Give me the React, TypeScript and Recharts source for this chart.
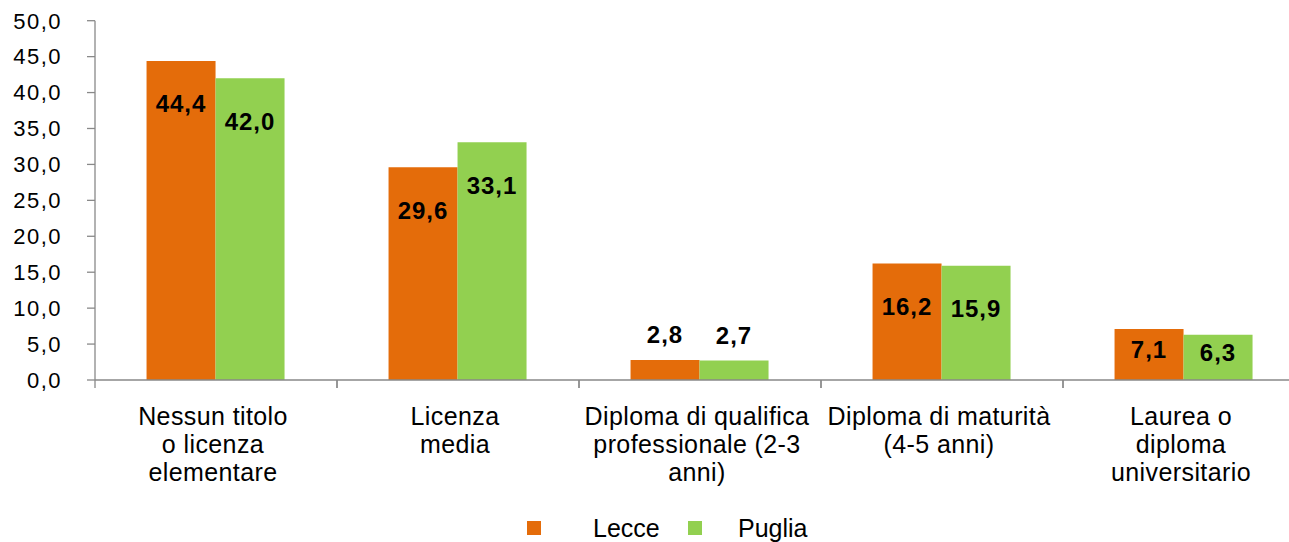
import React from 'react';
import { BarChart, Bar, XAxis, YAxis, Legend, LabelList } from 'recharts';

const categories = [
  'Nessun titolo\no licenza\nelementare',
  'Licenza\nmedia',
  'Diploma di qualifica\nprofessionale (2-3\nanni)',
  'Diploma di maturità\n(4-5 anni)',
  'Laurea o\ndiploma\nuniversitario',
];
const lecce = [44.4, 29.6, 2.8, 16.2, 7.1];
const puglia = [42.0, 33.1, 2.7, 15.9, 6.3];
const yTicks = [0, 5, 10, 15, 20, 25, 30, 35, 40, 45, 50];
const seriesNames = ['Lecce', 'Puglia'];

const ORANGE = '#E46C0A';
const GREEN = '#92D050';
const AXIS = '#898989';
const FONT = '"Liberation Sans", Arial, sans-serif';

const data = categories.map((name, i) => ({ name, lecce: lecce[i], puglia: puglia[i] }));

const fmt = (v: number) => Number(v).toFixed(1).replace('.', ',');

function ValueLabel(props: any) {
  const { x, y, width, height, value } = props;
  const h = Math.abs(Number(height));
  // label sits inside the bar near its top, or above when the bar is too short
  const cy = h < 30 ? Number(y) - 25 : Number(y) + Math.min(43, h * 0.4);
  return (
    <text
      x={Number(x) + Number(width) / 2}
      y={cy}
      textAnchor="middle"
      dominantBaseline="central"
      fontFamily={FONT}
      fontWeight="bold"
      fontSize={24}
      letterSpacing={1}
      fill="#000"
    >
      {fmt(value)}
    </text>
  );
}

function CategoryTick(props: any) {
  const { x, y, payload } = props;
  const half = payload && payload.offset ? payload.offset : 121;
  const lines = String(payload.value).split('\n');
  return (
    <g>
      <line x1={x - half} x2={x - half} y1={y} y2={y + 8} stroke={AXIS} strokeWidth={1.3} />
      <line x1={x + half} x2={x + half} y1={y} y2={y + 8} stroke={AXIS} strokeWidth={1.3} />
      <text x={x - 3} y={y + 45} textAnchor="middle" fontFamily={FONT} fontSize={25} letterSpacing={0.4} fill="#000">
        {lines.map((l, i) => (
          <tspan key={i} x={x - 3} dy={i === 0 ? 0 : 28}>
            {l}
          </tspan>
        ))}
      </text>
    </g>
  );
}

function LegendBox() {
  const items = [
    { name: seriesNames[0], color: ORANGE, sq: 527, tx: 593 },
    { name: seriesNames[1], color: GREEN, sq: 688, tx: 738 },
  ];
  return (
    <div style={{ position: 'relative', height: 40, fontFamily: FONT }}>
      {items.map((it) => (
        <React.Fragment key={it.name}>
          <div
            style={{
              position: 'absolute',
              left: it.sq,
              top: 19,
              width: 14,
              height: 14,
              background: it.color,
            }}
          />
          <div
            style={{
              position: 'absolute',
              left: it.tx,
              top: 14,
              fontSize: 25,
              lineHeight: '25px',
              color: '#000',
              whiteSpace: 'nowrap',
            }}
          >
            {it.name}
          </div>
        </React.Fragment>
      ))}
    </div>
  );
}

export default function App() {
  return (
    <div style={{ position: 'absolute', left: 0, top: 0, width: 1289, height: 542, overflow: 'hidden', background: '#fff' }}>
      <BarChart
        width={1310}
        height={542}
        data={data}
        margin={{ top: 20.7, right: 5, left: 0, bottom: 0 }}
        barCategoryGap="21.3%"
        barGap={0}
      >
        <YAxis
          width={95}
          domain={[0, 50]}
          ticks={yTicks}
          interval={0}
          tickFormatter={fmt}
          axisLine={{ stroke: AXIS, strokeWidth: 1.3 }}
          tickLine={{ stroke: AXIS, strokeWidth: 1.3 }}
          tickSize={8}
          tickMargin={25}
          tick={{ fontFamily: FONT, fontSize: 22, fill: '#000', letterSpacing: 1.5 }}
        />
        <XAxis
          dataKey="name"
          height={122}
          interval={0}
          tickLine={false}
          tickSize={0}
          tickMargin={0}
          axisLine={{ stroke: AXIS, strokeWidth: 1.3 }}
          tick={<CategoryTick />}
        />
        <Legend verticalAlign="bottom" height={40} content={() => <LegendBox />} wrapperStyle={{ left: 0, width: 1310 }} />
        <Bar dataKey="lecce" name={seriesNames[0]} fill={ORANGE} isAnimationActive={false}>
          <LabelList dataKey="lecce" content={<ValueLabel />} />
        </Bar>
        <Bar dataKey="puglia" name={seriesNames[1]} fill={GREEN} isAnimationActive={false}>
          <LabelList dataKey="puglia" content={<ValueLabel />} />
        </Bar>
      </BarChart>
    </div>
  );
}
